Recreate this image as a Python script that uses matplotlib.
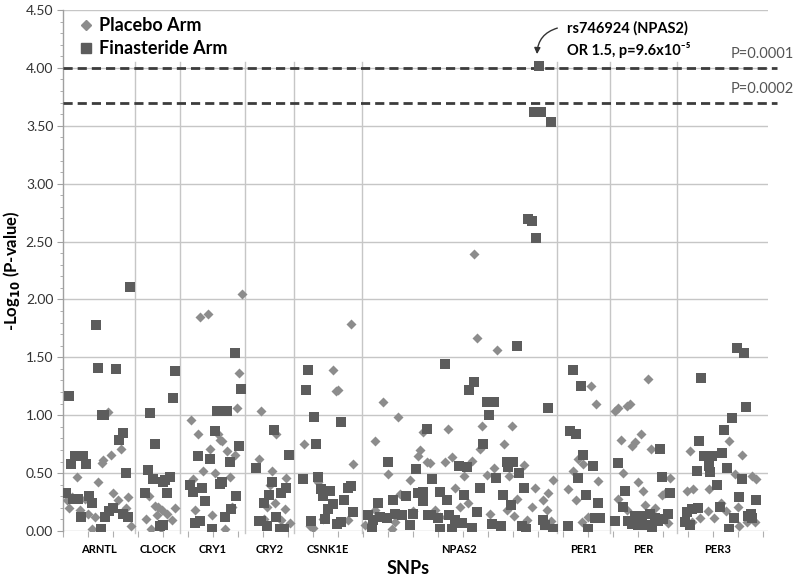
import matplotlib
matplotlib.use("Agg")
import matplotlib.pyplot as plt
from matplotlib.lines import Line2D
from matplotlib.transforms import blended_transform_factory
import numpy as np

plt.rcParams['font.family'] = ['Lato', 'DejaVu Sans']

# ---------------- data ----------------
genes = ["ARNTL", "CLOCK", "CRY1", "CRY2", "CSNK1E", "NPAS2", "PER1", "PER", "PER3"]
gene_bounds = [0, 28.8, 46.8, 72.8, 92.4, 119.6, 197.6, 218.8, 245.6, 278]

placebo_x = [
    # ARNTL
    18.1, 15.5, 16.1, 19.1, 23.2, 5.5, 14.1, 20.1, 26.1, 22.1, 2.5, 1.7, 6.8, 10.1, 11.5, 27.2, 25.2, 8.8, 3.6, 12.8,
    # CLOCK
    44.8, 36.8, 38.1, 39.5, 41.5, 37.5, 33.2, 35.1, 43.5, 34.5, 39.1,
    # CRY1
    71.7, 54.9, 58.0, 70.5, 69.7, 51.1, 54.0, 62.0, 62.9, 63.7, 58.9, 65.7, 68.7, 56.0, 60.9, 66.9, 52.0, 52.9, 59.7, 64.9, 67.6,
    # CRY2
    79.3, 85.3, 78.3, 83.6, 89.3, 82.7, 84.7, 88.7, 80.4, 87.3, 90.7, 81.7,
    # CSNK1E
    115.2, 108.1, 109.2, 110.1, 96.5, 116.1, 101.9, 98.8, 104.1, 114.1, 100.0, 106.8,
    # NPAS2
    128.1, 133.9, 124.8, 129.9, 138.8, 144.1, 142.8, 142.1, 145.5, 124.8, 131.5, 140.1, 164.5, 165.5, 173.5,
    153.9, 167.5, 179.5, 176.5, 166.8, 146.8, 152.8, 155.7, 163.7, 160.5, 169.5, 172.5, 178.5, 184.5, 196.1,
    156.8, 158.8, 162.1, 170.8, 180.5, 185.5, 177.5, 188.8, 192.1, 194.1, 193.5, 195.2, 187.5, 148.8, 150.8,
    181.5, 134.8, 120.8, 132.8,
    # PER1
    211.2, 213.1, 206.1, 208.1, 204.1, 214.1, 202.1, 205.2, 207.5, 210.1,
    # PER
    234.1, 220.8, 222.1, 225.5, 226.8, 223.1, 231.1, 228.8, 227.7, 235.1, 223.9, 230.1, 232.1, 221.9, 242.8,
    239.5, 240.8, 232.8, 225.5, 242.1, 236.8,
    # PER3
    271.5, 266.4, 250.8, 268.8, 275.5, 277.1, 249.5, 252.1, 258.5, 263.2, 257.9, 265.1, 269.9, 260.3, 254.8,
    270.5, 273.5, 276.8, 251.6,
]
placebo_y = [
    # ARNTL
    1.03, 0.59, 0.61, 0.66, 0.71, 0.47, 0.42, 0.33, 0.29, 0.27, 0.195, 0.27, 0.18, 0.15, 0.02, 0.04, 0.195, 0.28, 0.29, 0.12,
    # CLOCK
    0.195, 0.22, 0.21, 0.18, 0.15, 0.14, 0.10, 0.015, 0.095, 0.30, 0.03,
    # CRY1
    2.05, 1.85, 1.87, 1.365, 1.06, 0.96, 0.84, 0.84, 0.785, 0.775, 0.71, 0.69, 0.655, 0.52, 0.50, 0.47, 0.45, 0.18, 0.14, 0.015, 0.21,
    # CRY2
    1.035, 0.84, 0.62, 0.52, 0.455, 0.40, 0.245, 0.19, 0.10, 0.095, 0.07, 0.21,
    # CSNK1E
    1.79, 1.39, 1.21, 1.215, 0.75, 0.58, 0.425, 0.04, 0.10, 0.095, 0.03, 0.22,
    # NPAS2
    1.115, 0.985, 0.78, 0.49, 0.44, 0.855, 0.70, 0.645, 0.60, 0.18, 0.02, 0.17, 2.39, 1.67, 1.56,
    0.88, 0.91, 0.91, 0.75, 0.71, 0.59, 0.60, 0.635, 0.605, 0.475, 0.48, 0.54, 0.475, 0.57, 0.44,
    0.37, 0.21, 0.245, 0.15, 0.13, 0.095, 0.18, 0.37, 0.27, 0.325, 0.18, 0.09, 0.21, 0.18, 0.125,
    0.28, 0.32, 0.05, 0.08,
    # PER1
    1.25, 1.095, 0.62, 0.58, 0.52, 0.43, 0.36, 0.27, 0.08, 0.12,
    # PER
    1.31, 1.04, 1.06, 1.08, 1.095, 0.785, 0.84, 0.77, 0.73, 0.705, 0.505, 0.425, 0.345, 0.275, 0.455,
    0.315, 0.33, 0.225, 0.18, 0.07, 0.20,
    # PER3
    0.66, 0.78, 0.69, 0.49, 0.475, 0.45, 0.345, 0.36, 0.36, 0.245, 0.175, 0.17, 0.205, 0.11, 0.11,
    0.04, 0.08, 0.08, 0.08,
]

finasteride_x = [
    # ARNTL
    26.9, 13.2, 14.1, 21.2, 2.4, 15.5, 16.4, 24.1, 22.3, 4.8, 6.8, 8.1, 3.3, 9.2, 25.2, 1.2, 4.1, 6.1, 10.5, 11.5,
    7.1, 15.1, 16.8, 18.5, 20.1, 24.1, 26.1,
    # CLOCK
    44.8, 43.9, 34.8, 36.9, 33.9, 36.1, 39.9, 40.8, 42.8, 32.9, 41.7, 38.8, 40.0,
    # CRY1
    68.7, 71.3, 61.7, 65.7, 60.7, 70.4, 54.0, 58.7, 66.7, 50.7, 52.0, 55.7, 62.7, 63.6, 69.3, 56.9, 67.3, 64.7,
    52.7, 54.7, 59.6,
    # CRY2
    84.4, 90.4, 77.3, 83.6, 89.3, 82.4, 87.3, 80.4, 78.4, 79.3, 81.6, 85.3, 86.7, 88.4,
    # CSNK1E
    98.1, 97.2, 100.4, 111.2, 101.1, 96.1, 102.1, 103.2, 104.1, 106.8, 113.9, 115.2, 112.5, 108.1, 106.1, 116.1,
    99.2, 104.8, 109.5, 111.2,
    # NPAS2
    145.5, 129.9, 141.1, 125.9, 131.9, 137.2, 142.1, 144.1, 143.9, 122.1, 124.1, 126.8, 129.5, 132.8, 135.5,
    138.8, 123.5, 140.1, 146.1, 190.3, 188.4, 191.1, 195.1, 186.1, 187.5, 189.2, 181.5, 152.8, 164.4, 162.4,
    169.5, 172.4, 170.5, 194.1, 168.1, 177.5, 180.1, 178.1, 158.5, 161.5, 182.5, 173.2, 147.7, 166.8, 150.8,
    184.4, 175.9, 160.5, 153.5, 179.2, 165.5, 154.5, 147.2, 150.1, 156.8, 159.5, 150.8, 155.5, 163.5, 171.5,
    175.2, 183.5, 185.1, 192.8, 196.1, 192.1,
    # PER1
    204.1, 207.1, 202.8, 205.2, 208.1, 212.1, 206.1, 209.1, 213.9, 212.8, 214.8, 202.1, 210.1,
    # PER
    238.8, 221.9, 239.7, 224.8, 242.8, 224.1, 241.9, 220.8, 226.1, 228.8, 231.5, 234.8, 236.8, 227.5, 230.1,
    232.8, 235.5, 238.1, 240.1,
    # PER3
    269.5, 272.4, 255.2, 273.2, 267.5, 264.5, 254.4, 256.4, 259.5, 263.5, 253.5, 258.4, 258.8, 265.7, 271.5,
    261.7, 270.4, 277.2, 249.5, 251.5, 254.1, 248.8, 250.8, 268.4, 266.4, 275.2, 274.1, 275.5, 262.8,
]
finasteride_y = [
    # ARNTL
    2.11, 1.78, 1.41, 1.40, 1.17, 1.00, 1.00, 0.845, 0.79, 0.65, 0.65, 0.65, 0.575, 0.575, 0.50, 0.33, 0.28, 0.28, 0.30, 0.245,
    0.12, 0.02, 0.12, 0.17, 0.195, 0.15, 0.12,
    # CLOCK
    1.385, 1.15, 1.02, 0.75, 0.53, 0.45, 0.425, 0.44, 0.47, 0.325, 0.325, 0.04, 0.05,
    # CRY1
    1.54, 1.23, 1.04, 1.04, 0.865, 0.73, 0.645, 0.62, 0.595, 0.40, 0.34, 0.37, 0.41, 0.42, 0.30, 0.255, 0.19, 0.125,
    0.065, 0.09, 0.015,
    # CRY2
    0.87, 0.66, 0.545, 0.42, 0.37, 0.315, 0.325, 0.245, 0.09, 0.09, 0.04, 0.12, 0.02, 0.02,
    # CSNK1E
    1.39, 1.22, 0.985, 0.94, 0.75, 0.45, 0.47, 0.36, 0.30, 0.345, 0.37, 0.39, 0.27, 0.235, 0.19, 0.16,
    0.09, 0.10, 0.06, 0.08,
    # NPAS2
    0.88, 0.60, 0.535, 0.245, 0.27, 0.30, 0.325, 0.34, 0.26, 0.14, 0.095, 0.12, 0.11, 0.15, 0.14,
    0.05, 0.02, 0.15, 0.14, 4.02, 3.62, 3.62, 3.53, 2.695, 2.675, 2.53, 1.595, 1.44, 1.29, 1.22,
    1.115, 1.11, 1.00, 1.06, 0.755, 0.60, 0.60, 0.555, 0.56, 0.55, 0.50, 0.455, 0.445, 0.37, 0.34,
    0.37, 0.315, 0.31, 0.27, 0.225, 0.165, 0.14, 0.14, 0.11, 0.095, 0.07, 0.02, 0.02, 0.03, 0.06,
    0.04, 0.04, 0.02, 0.05, 0.015, 0.095,
    # PER1
    1.39, 1.25, 0.86, 0.84, 0.66, 0.565, 0.46, 0.31, 0.24, 0.11, 0.11, 0.04, 0.02,
    # PER
    0.71, 0.59, 0.47, 0.345, 0.33, 0.21, 0.15, 0.085, 0.09, 0.13, 0.13, 0.145, 0.115, 0.06, 0.05,
    0.05, 0.035, 0.09, 0.10,
    # PER3
    1.58, 1.54, 1.32, 1.07, 0.98, 0.875, 0.775, 0.65, 0.645, 0.67, 0.52, 0.565, 0.51, 0.54, 0.45,
    0.40, 0.29, 0.27, 0.165, 0.19, 0.195, 0.08, 0.05, 0.11, 0.02, 0.15, 0.13, 0.11, 0.21,
]

y_ticks = [0.0, 0.5, 1.0, 1.5, 2.0, 2.5, 3.0, 3.5, 4.0, 4.5]
threshold_p = [0.0001, 0.0002]
threshold_labels = ["P=0.0001", "P=0.0002"]

# ---------------- figure ----------------
fig = plt.figure(figsize=(8, 5.76), dpi=100)
ax = fig.add_axes([63 / 800, 1 - 531 / 576, 705 / 800, 521 / 576])

ax.set_xlim(0, 282)
ax.set_ylim(0, 4.5)

grid_c = "#c6c6c6"
for yt in y_ticks:
    ax.axhline(yt, color=grid_c, lw=1.0, zorder=0)
for xb in gene_bounds[1:-1]:
    ax.plot([xb, xb], [-0.02, 4.05], color=grid_c, lw=1.0, zorder=0, clip_on=False)

# threshold dashed lines and labels
ytr = ax.get_yaxis_transform()
for p, lab in zip(threshold_p, threshold_labels):
    v = -np.log10(p)
    ax.plot([0, 1.013], [v, v], transform=ytr, color="#3c3c3c", lw=2,
            linestyle=(0, (3.3, 1.8)), clip_on=False, zorder=3)
    ax.text(1.036, v + 0.06, lab, transform=ytr, ha="right", va="bottom", fontsize=10.5,
            color="#555555", clip_on=False)

ax.scatter(placebo_x, placebo_y, marker="D", s=26, color="#8c8c8c", linewidths=0, zorder=4,
           label="Placebo Arm")
ax.scatter(finasteride_x, finasteride_y, marker="s", s=44, color="#5c5c5c", linewidths=0, zorder=5,
           label="Finasteride Arm")

# axes styling
for s in ["top", "right", "bottom"]:
    ax.spines[s].set_visible(False)
ax.spines["left"].set_color("#a0a0a0")
ax.spines["left"].set_linewidth(1.0)

ax.set_yticks(y_ticks)
ax.set_yticklabels([f"{v:.2f}" for v in y_ticks])
ax.set_yticks(np.arange(0, 4.51, 0.1), minor=True)
ax.tick_params(axis="y", which="major", length=4, color="#a0a0a0", labelsize=10, labelcolor="#333333", pad=3)
ax.tick_params(axis="y", which="minor", length=2.5, color="#a0a0a0")
ax.set_xticks(np.arange(0, 282, 10))
ax.tick_params(axis="x", which="major", length=4, color="#b0b0b0", labelbottom=False, direction="out")

ax.set_ylabel(r"-Log$_{\mathbf{10}}$ (P-value)", fontsize=12, fontweight="bold")
ax.yaxis.set_label_coords(-0.058, 0.5)
ax.text(0.489, -0.055, "SNPs", transform=ax.transAxes, ha="center", va="top",
        fontsize=13, fontweight="bold")

# gene labels
btr = blended_transform_factory(ax.transData, ax.transAxes)
for i, g in enumerate(genes):
    xm = (gene_bounds[i] + gene_bounds[i + 1]) / 2
    ax.text(xm, -0.035, g, transform=btr, ha="center", va="center", fontsize=8, fontweight="bold")

# legend
handles = [
    Line2D([], [], marker="D", color="#8c8c8c", linestyle="none", markersize=5),
    Line2D([], [], marker="s", color="#5c5c5c", linestyle="none", markersize=6.5),
]
ax.legend(handles, ["Placebo Arm", "Finasteride Arm"], loc="upper left", bbox_to_anchor=(0.0, 1.01),
          frameon=False, prop={"size": 13, "weight": "bold"}, handletextpad=0.1,
          handlelength=1.2, labelspacing=0.3, borderaxespad=0.3)

# annotation of top SNP
ax.text(201.5, 4.345, "rs746924 (NPAS2)", ha="left", va="center", fontsize=10.5, fontweight="bold")
ax.text(201.5, 4.155, "OR 1.5, p=9.6x10⁻⁵", ha="left", va="center", fontsize=10.5, fontweight="bold")
ax.annotate("", xy=(189.6, 4.095), xytext=(198.8, 4.35),
            arrowprops=dict(arrowstyle="-|>", color="#333333", lw=1.0,
                            connectionstyle="arc3,rad=0.4", mutation_scale=9))

fig.savefig("out.png", dpi=100)
